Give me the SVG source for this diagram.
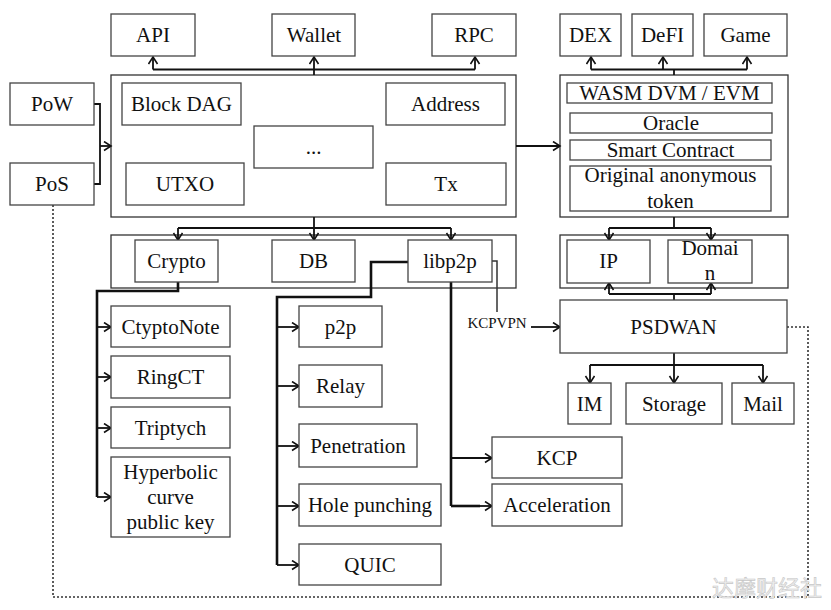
<svg xmlns="http://www.w3.org/2000/svg" width="831" height="610" viewBox="0 0 831 610">
<style>
.b{fill:#fff;stroke:#444;stroke-width:1.3}
.c{fill:none;stroke:#333;stroke-width:1.3}
.t{font-family:"Liberation Serif","Times New Roman",serif;font-size:21px;fill:#111;text-anchor:middle;dominant-baseline:central}
.s{font-size:15px}
.l{fill:none;stroke:#111;stroke-width:1.8}
.k{fill:none;stroke:#111;stroke-width:2.6}
.d{fill:none;stroke:#333;stroke-width:1.6;stroke-dasharray:2 2}
.wm{font-family:"Noto Sans CJK SC",sans-serif;font-size:22px;fill:#eee;stroke:#c8c8c8;stroke-width:0.6}
</style>
<defs>
<marker id="a" markerUnits="userSpaceOnUse" markerWidth="12" markerHeight="12" refX="8" refY="5" orient="auto">
<path d="M1,0.5 L8,5 L1,9.5" fill="none" stroke="#111" stroke-width="1.6"/>
</marker>
</defs>
<rect width="831" height="610" fill="#fff"/>

<g id="containers">
<rect class="c" x="111" y="75" width="405" height="142"/>
<rect class="c" x="111" y="235" width="405" height="53"/>
<rect class="c" x="560" y="75" width="228" height="142"/>
<rect class="c" x="560" y="235" width="228" height="53"/>
</g>

<g id="connectors">
<path class="l" d="M314,75 V69.5"/>
<path class="l" d="M153,69.5 H475"/>
<path class="l" d="M153,69.5 V57" marker-end="url(#a)"/>
<path class="l" d="M314,69.5 V57" marker-end="url(#a)"/>
<path class="l" d="M475,69.5 V57" marker-end="url(#a)"/>
<path class="l" d="M674,75 V69.5"/>
<path class="l" d="M591,69.5 H747"/>
<path class="l" d="M591,69.5 V57" marker-end="url(#a)"/>
<path class="l" d="M663,69.5 V57" marker-end="url(#a)"/>
<path class="l" d="M747,69.5 V57" marker-end="url(#a)"/>
<path class="l" d="M94,104 H100 V184 H94"/>
<path class="l" d="M100,146 H111" marker-end="url(#a)"/>
<path class="l" d="M516,146 H560" marker-end="url(#a)"/>
<path class="l" d="M314,217 V228"/>
<path class="l" d="M178,228 H451"/>
<path class="l" d="M178,228 V240" marker-end="url(#a)"/>
<path class="l" d="M314,228 V240" marker-end="url(#a)"/>
<path class="l" d="M451,228 V240" marker-end="url(#a)"/>
<path class="l" d="M674,217 V228"/>
<path class="l" d="M609,228 H711"/>
<path class="l" d="M609,228 V240" marker-end="url(#a)"/>
<path class="l" d="M711,228 V240" marker-end="url(#a)"/>
<path class="l" d="M674,300 V294"/>
<path class="l" d="M609,294 H711"/>
<path class="l" d="M609,294 V283" marker-end="url(#a)"/>
<path class="l" d="M711,294 V283" marker-end="url(#a)"/>
<path class="l" d="M674,353 V365"/>
<path class="l" d="M590,365 H763"/>
<path class="l" d="M590,365 V383" marker-end="url(#a)"/>
<path class="l" d="M674,365 V383" marker-end="url(#a)"/>
<path class="l" d="M763,365 V383" marker-end="url(#a)"/>
<path class="k" d="M178,282 V291 H97 V497"/>
<path class="l" d="M97,327 H111" marker-end="url(#a)"/>
<path class="l" d="M97,377 H111" marker-end="url(#a)"/>
<path class="l" d="M97,428 H111" marker-end="url(#a)"/>
<path class="l" d="M97,497 H111" marker-end="url(#a)"/>
<path class="k" d="M408,262 H371 V297 H277 V565"/>
<path class="l" d="M277,327 H299" marker-end="url(#a)"/>
<path class="l" d="M277,386 H299" marker-end="url(#a)"/>
<path class="l" d="M277,446 H299" marker-end="url(#a)"/>
<path class="l" d="M277,506 H299" marker-end="url(#a)"/>
<path class="l" d="M277,565 H299" marker-end="url(#a)"/>
<path class="k" d="M451,282 V506"/>
<path class="l" d="M451,458 H492" marker-end="url(#a)"/>
<path class="k" d="M451,506 H480"/>
<path class="l" d="M478,506 H492" marker-end="url(#a)"/>
<path class="c" d="M492,261 H497 V312" style="stroke-width:1.5"/>
<path class="l" d="M531,327 H560" marker-end="url(#a)"/>
<text class="t s" x="497" y="323">KCPVPN</text>
<path class="d" d="M53,205 V597 H808 V327 H787"/>
</g>

<g id="n-api"><rect class="b" x="111" y="14" width="84" height="42"/><text class="t" x="153" y="35">API</text></g>
<g id="n-wallet"><rect class="b" x="272" y="14" width="83" height="42"/><text class="t" x="314" y="35">Wallet</text></g>
<g id="n-rpc"><rect class="b" x="432" y="14" width="84" height="42"/><text class="t" x="474" y="35">RPC</text></g>
<g id="n-dex"><rect class="b" x="560" y="14" width="61" height="42"/><text class="t" x="590.5" y="35">DEX</text></g>
<g id="n-defi"><rect class="b" x="632" y="14" width="61" height="42"/><text class="t" x="662.5" y="35">DeFI</text></g>
<g id="n-game"><rect class="b" x="704" y="14" width="83" height="42"/><text class="t" x="745.5" y="35">Game</text></g>

<g id="n-pow"><rect class="b" x="10" y="83" width="84" height="42"/><text class="t" x="52" y="104">PoW</text></g>
<g id="n-pos"><rect class="b" x="10" y="163" width="84" height="42"/><text class="t" x="52" y="184">PoS</text></g>

<g id="n-blockdag"><rect class="b" x="122" y="83" width="119" height="42"/><text class="t" x="181.5" y="104">Block DAG</text></g>
<g id="n-address"><rect class="b" x="386" y="83" width="119" height="42"/><text class="t" x="445.5" y="104">Address</text></g>
<g id="n-dots"><rect class="b" x="254" y="126" width="119" height="42"/><text class="t" x="313.5" y="147">...</text></g>
<g id="n-utxo"><rect class="b" x="126" y="163" width="118" height="42"/><text class="t" x="185" y="184">UTXO</text></g>
<g id="n-tx"><rect class="b" x="386" y="163" width="120" height="42"/><text class="t" x="446" y="184">Tx</text></g>

<g id="n-wasm"><rect class="b" x="567" y="83" width="205" height="20"/><text class="t" x="669.5" y="93">WASM DVM / EVM</text></g>
<g id="n-oracle"><rect class="b" x="570" y="113" width="202" height="20"/><text class="t" x="671" y="123">Oracle</text></g>
<g id="n-smart"><rect class="b" x="570" y="140" width="201" height="20"/><text class="t" x="670.5" y="150">Smart Contract</text></g>
<g id="n-token"><rect class="b" x="570" y="166" width="201" height="45"/><text class="t" x="670.5" y="175">Original anonymous</text><text class="t" x="670.5" y="201">token</text></g>

<g id="n-crypto"><rect class="b" x="135" y="240" width="83" height="42"/><text class="t" x="176.5" y="261">Crypto</text></g>
<g id="n-db"><rect class="b" x="272" y="240" width="83" height="42"/><text class="t" x="313.5" y="261">DB</text></g>
<g id="n-libp2p"><rect class="b" x="408" y="240" width="84" height="42"/><text class="t" x="450" y="261">libp2p</text></g>

<g id="n-ip"><rect class="b" x="567" y="240" width="83" height="43"/><text class="t" x="608.5" y="261">IP</text></g>
<g id="n-domain"><rect class="b" x="668" y="240" width="84" height="43"/><text class="t" x="710" y="248">Domai</text><text class="t" x="710" y="273">n</text></g>

<g id="n-psdwan"><rect class="b" x="560" y="300" width="227" height="53"/><text class="t" x="673.5" y="326.5">PSDWAN</text></g>
<g id="n-im"><rect class="b" x="568" y="383" width="43" height="41"/><text class="t" x="589.5" y="403.5">IM</text></g>
<g id="n-storage"><rect class="b" x="626" y="383" width="96" height="41"/><text class="t" x="674" y="403.5">Storage</text></g>
<g id="n-mail"><rect class="b" x="732" y="383" width="62" height="41"/><text class="t" x="763" y="403.5">Mail</text></g>

<g id="n-cryptonote"><rect class="b" x="111" y="306" width="119" height="41"/><text class="t" x="170.5" y="326.5">CtyptoNote</text></g>
<g id="n-ringct"><rect class="b" x="111" y="356" width="119" height="42"/><text class="t" x="170.5" y="377">RingCT</text></g>
<g id="n-triptych"><rect class="b" x="111" y="407" width="119" height="41"/><text class="t" x="170.5" y="427.5">Triptych</text></g>
<g id="n-hyper"><rect class="b" x="111" y="457" width="119" height="80"/><text class="t" x="170.5" y="472">Hyperbolic</text><text class="t" x="170.5" y="497">curve</text><text class="t" x="170.5" y="522">public key</text></g>

<g id="n-p2p"><rect class="b" x="299" y="306" width="83" height="41"/><text class="t" x="340.5" y="326.5">p2p</text></g>
<g id="n-relay"><rect class="b" x="299" y="365" width="83" height="42"/><text class="t" x="340.5" y="386">Relay</text></g>
<g id="n-penetration"><rect class="b" x="299" y="424" width="118" height="43"/><text class="t" x="358" y="445.5">Penetration</text></g>
<g id="n-hole"><rect class="b" x="299" y="484" width="142" height="42"/><text class="t" x="370" y="505">Hole punching</text></g>
<g id="n-quic"><rect class="b" x="299" y="544" width="142" height="41"/><text class="t" x="370" y="564.5">QUIC</text></g>

<g id="n-kcp"><rect class="b" x="492" y="437" width="130" height="41"/><text class="t" x="557" y="457.5">KCP</text></g>
<g id="n-accel"><rect class="b" x="492" y="484" width="130" height="42"/><text class="t" x="557" y="505">Acceleration</text></g>

<text class="wm" x="712" y="596">达摩财经社</text>
</svg>
